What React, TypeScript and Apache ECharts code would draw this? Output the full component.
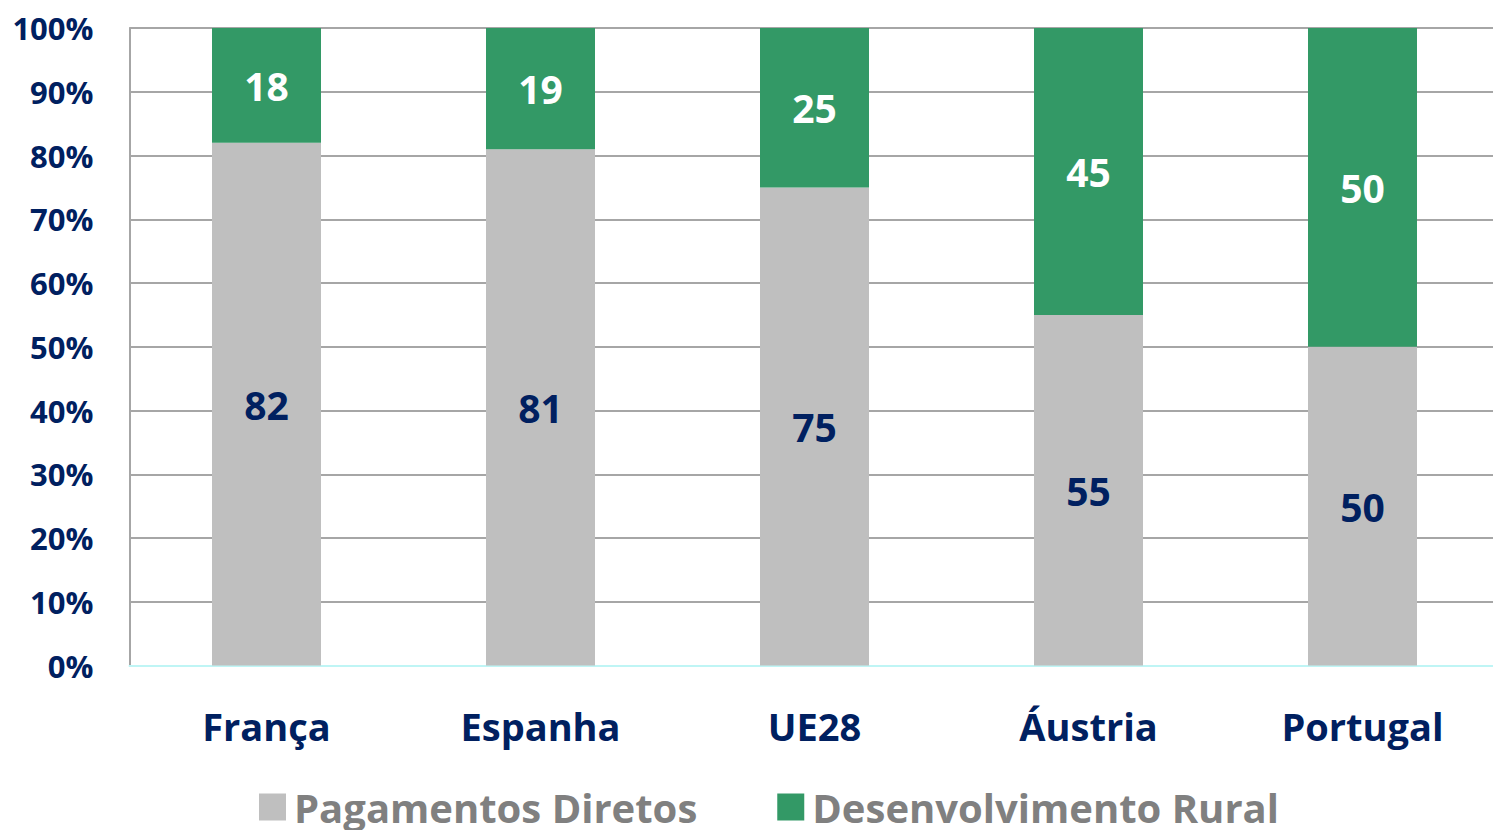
import React, { useEffect, useRef } from "react";
import * as echarts from "echarts";

const categories = ["França", "Espanha", "UE28", "Áustria", "Portugal"];
const pagamentosDiretos = [82, 81, 75, 55, 50];
const desenvolvimentoRural = [18, 19, 25, 45, 50];
const seriesNames = ["Pagamentos Diretos", "Desenvolvimento Rural"];
const yTicks = { min: 0, max: 100, interval: 10 };

const FONT = "'Open Sans', 'Noto Sans', sans-serif";
const NAVY = "#002060";
const GRAY = "#BFBFBF";
const GREEN = "#339966";

export default function App() {
  const ref = useRef<HTMLDivElement>(null);
  useEffect(() => {
    if (!ref.current) return;
    const chart = echarts.init(ref.current, null, { renderer: "svg" });
    chart.setOption({
      animation: false,
      backgroundColor: "#ffffff",
      grid: { left: 129.5, right: 0.5, top: 28, bottom: 164.5, containLabel: false },
      legend: {
        left: 254,
        top: 782,
        itemWidth: 27,
        itemHeight: 27,
        itemGap: 80,
        icon: "rect",
        textStyle: {
          fontFamily: FONT,
          fontWeight: "bold",
          fontSize: 40,
          color: "#808080",
          lineHeight: 40,
          padding: [0, 0, 0, 3],
        },
        data: seriesNames,
      },
      xAxis: {
        type: "category",
        data: categories,
        axisLine: { show: true, lineStyle: { color: "#BFF5F5", width: 2 } },
        axisTick: { show: false },
        axisLabel: {
          fontFamily: FONT,
          fontWeight: "bold",
          fontSize: 38,
          color: NAVY,
          margin: 41,
          lineHeight: 38,
        },
      },
      yAxis: {
        type: "value",
        min: yTicks.min,
        max: yTicks.max,
        interval: yTicks.interval,
        axisLine: { show: true, lineStyle: { color: "#A6A6A6", width: 2 } },
        axisTick: { show: false },
        splitLine: { show: true, lineStyle: { color: "#A6A6A6", width: 2 } },
        axisLabel: {
          formatter: "{value}%",
          fontFamily: FONT,
          fontWeight: "bold",
          fontSize: 31,
          color: NAVY,
          margin: 36,
        },
      },
      series: [
        {
          name: seriesNames[0],
          type: "bar",
          stack: "total",
          barWidth: 109,
          data: pagamentosDiretos,
          itemStyle: { color: GRAY },
          label: {
            show: true,
            position: "inside",
            fontFamily: FONT,
            fontWeight: "bold",
            fontSize: 39,
            color: NAVY,
          },
        },
        {
          name: seriesNames[1],
          type: "bar",
          stack: "total",
          barWidth: 109,
          data: desenvolvimentoRural,
          itemStyle: { color: GREEN },
          label: {
            show: true,
            position: "inside",
            fontFamily: FONT,
            fontWeight: "bold",
            fontSize: 39,
            color: "#ffffff",
          },
        },
      ],
    });
    return () => chart.dispose();
  }, []);
  return (
    <div
      style={{
        position: "absolute",
        left: 0,
        top: 0,
        width: 1493,
        height: 830,
        overflow: "hidden",
      }}
    >
      <div ref={ref} style={{ width: 1500, height: 830 }} />
    </div>
  );
}
